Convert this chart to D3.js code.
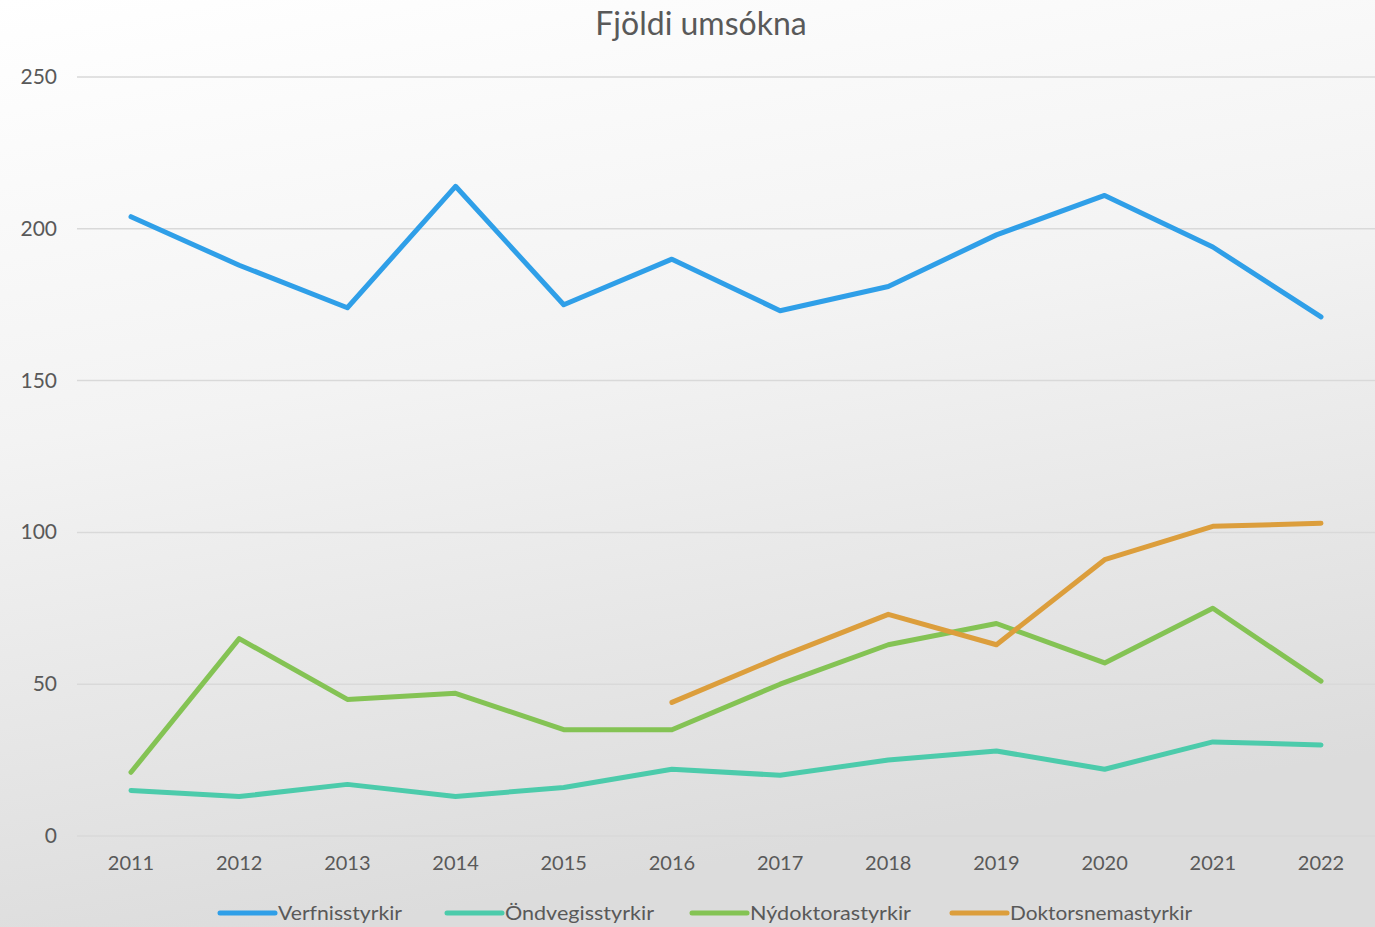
<!DOCTYPE html>
<html>
<head>
<meta charset="utf-8">
<script src="https://cdn.jsdelivr.net/npm/d3@7"></script>
<style>
  body { margin: 0; }
  svg { display: block; font-family: "Lato", "DejaVu Sans", sans-serif; }
</style>
</head>
<body>
<svg id="chart" width="1375" height="927"></svg>
<script>
// data
const years = ["2011","2012","2013","2014","2015","2016","2017","2018","2019","2020","2021","2022"];
const verfnis = [204, 188, 174, 214, 175, 190, 173, 181, 198, 211, 194, 171];
const ondvegis = [15, 13, 17, 13, 16, 22, 20, 25, 28, 22, 31, 30];
const nydoktora = [21, 65, 45, 47, 35, 35, 50, 63, 70, 57, 75, 51];
const doktorsnema = [null, null, null, null, null, 44, 59, 73, 63, 91, 102, 103];
const yTicks = [0, 50, 100, 150, 200, 250];

const series = [
  {name: "Verfnisstyrkir", values: verfnis, color: "#2f9fe8"},
  {name: "Öndvegisstyrkir", values: ondvegis, color: "#4ccbab"},
  {name: "Nýdoktorastyrkir", values: nydoktora, color: "#84c354"},
  {name: "Doktorsnemastyrkir", values: doktorsnema, color: "#dc9e3c"}
];

const W = 1375, H = 927;
const svg = d3.select('#chart');

// background gradient
const defs = svg.append('defs');
const grad = defs.append('linearGradient')
  .attr('id', 'bg').attr('x1', 0).attr('y1', 0).attr('x2', 0.25).attr('y2', 1);
grad.append('stop').attr('offset', '0%').attr('stop-color', '#ffffff');
grad.append('stop').attr('offset', '45%').attr('stop-color', '#f3f3f3');
grad.append('stop').attr('offset', '100%').attr('stop-color', '#dcdcdc');
svg.append('rect').attr('width', W).attr('height', H).attr('fill', 'url(#bg)');

const xScale = d3.scalePoint()
  .domain(years)
  .range([131, 1321]);

const yScale = d3.scaleLinear()
  .domain([0, 250])
  .range([836, 77]);

// gridlines
svg.append('g')
  .selectAll('line')
  .data(yTicks)
  .join('line')
  .attr('x1', 77)
  .attr('x2', W)
  .attr('y1', d => yScale(d))
  .attr('y2', d => yScale(d))
  .attr('stroke', '#d9d9d9')
  .attr('stroke-width', 1.5);

// y axis labels
svg.append('g')
  .selectAll('text')
  .data(yTicks)
  .join('text')
  .attr('x', 57)
  .attr('y', d => yScale(d) + 7)
  .attr('text-anchor', 'end')
  .attr('font-size', 21)
  .attr('fill', '#595959')
  .text(d => d);

// x axis labels
svg.append('g')
  .selectAll('text')
  .data(years)
  .join('text')
  .attr('x', d => xScale(d))
  .attr('y', 870)
  .attr('text-anchor', 'middle')
  .attr('font-size', 20)
  .attr('fill', '#595959')
  .text(d => d);

// title
svg.append('text')
  .attr('x', 701)
  .attr('y', 35)
  .attr('text-anchor', 'middle')
  .attr('font-size', 32)
  .attr('fill', '#595959')
  .text('Fjöldi umsókna');

// the lines
let lineGenerator = d3.line()
  .defined(d => d.v != null)
  .x(d => xScale(d.year))
  .y(d => yScale(d.v));

svg.append('g')
  .selectAll('path')
  .data(series)
  .join('path')
  .attr('d', s => lineGenerator(s.values.map((v, i) => ({year: years[i], v: v}))))
  .attr('fill', 'none')
  .attr('stroke', s => s.color)
  .attr('stroke-width', 5)
  .attr('stroke-linejoin', 'round')
  .attr('stroke-linecap', 'round');

// legend
const legendX = [220, 447, 692, 952];
const leg = svg.append('g')
  .selectAll('g')
  .data(series)
  .join('g')
  .attr('transform', (d, i) => `translate(${legendX[i]},913)`);
leg.append('line')
  .attr('x1', 0).attr('x2', 55)
  .attr('y1', 0).attr('y2', 0)
  .attr('stroke', d => d.color)
  .attr('stroke-width', 5)
  .attr('stroke-linecap', 'round');
leg.append('text')
  .attr('x', 58)
  .attr('y', 7)
  .attr('font-size', 19)
  .attr('fill', '#595959')
  .attr('textLength', (d, i) => [124, 149, 161, 182][i])
  .attr('lengthAdjust', 'spacingAndGlyphs')
  .text(d => d.name);
</script>
</body>
</html>
